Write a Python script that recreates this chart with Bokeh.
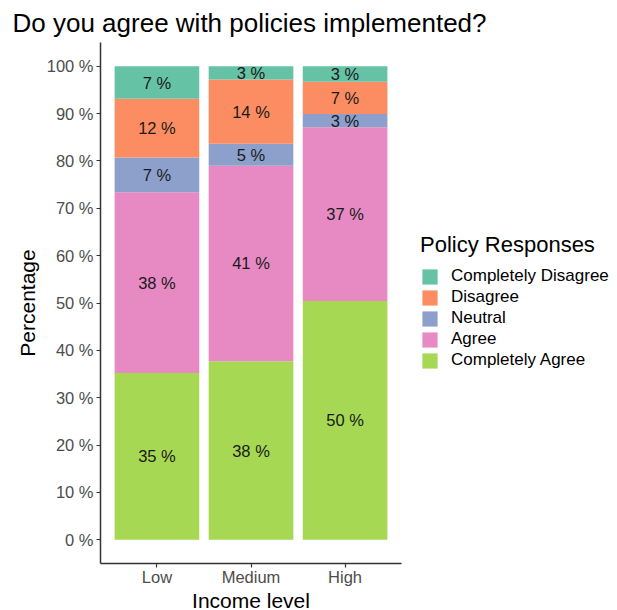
from bokeh.plotting import figure
from bokeh.models import (ColumnDataSource, Range1d, FixedTicker,
                          PrintfTickFormatter, Legend, LegendItem)
from bokeh.core.properties import value
from bokeh.embed import file_html
from bokeh.resources import INLINE

income = ["Low", "Medium", "High"]
completely_agree = [35.2, 37.7, 50.4]
agree = [38.2, 41.3, 36.7]
neutral = [7.3, 4.6, 2.8]
disagree = [12.4, 13.6, 6.8]
completely_disagree = [6.9, 2.8, 3.3]

responses = ["Completely Agree", "Agree", "Neutral", "Disagree", "Completely Disagree"]
keys = ["ca", "a", "n", "d", "cd"]
colors = ["#a6d854", "#e78ac3", "#8da0cb", "#fc8d62", "#66c2a5"]
y_ticks = [0, 10, 20, 30, 40, 50, 60, 70, 80, 90, 100]

FONT = "Liberation Sans"

xpos = [i + 1 for i in range(len(income))]
data = dict(x=xpos, ca=completely_agree, a=agree, n=neutral,
            d=disagree, cd=completely_disagree)
src = ColumnDataSource(data)

p = figure(frame_width=301, frame_height=521, output_backend="svg", toolbar_location=None,
           x_range=Range1d(0.4, len(income) + 0.6),
           y_range=Range1d(-5, 105),
           min_border_left=100, min_border_right=0, min_border_top=41, min_border_bottom=46)

renderers = p.vbar_stack(keys, x="x", width=0.9, color=colors, line_color=None, source=src)

# labels at segment centers
lx, ly, lt = [], [], []
series = [completely_agree, agree, neutral, disagree, completely_disagree]
for i in range(len(income)):
    base = 0.0
    for s in series:
        v = s[i]
        lx.append(xpos[i])
        ly.append(base + v / 2)
        lt.append(f"{round(v)} %")
        base += v
p.text(x=lx, y=ly, text=lt, text_align="center", text_baseline="middle",
       text_font_size="16.5px", text_color="#1a1a1a", text_font=value(FONT))

# title
p.title.text = "Do you agree with policies implemented?"
p.title.text_font = FONT
p.title.text_font_size = "26px"
p.title.text_font_style = "normal"
p.title.text_color = "#000000"
p.title.align = "left"
p.title.offset = -88
p.title.standoff = 10

p.outline_line_color = None
p.xgrid.grid_line_color = None
p.ygrid.grid_line_color = None
p.background_fill_color = "white"

for ax in (p.xaxis[0], p.yaxis[0]):
    ax.axis_line_color = "#333333"
    ax.axis_line_width = 1.5
    ax.major_tick_line_color = "#333333"
    ax.major_tick_line_width = 1.2
    ax.major_tick_out = 4
    ax.major_tick_in = 0
    ax.minor_tick_line_color = None
    ax.major_label_text_font = FONT
    ax.major_label_text_font_size = "16.5px"
    ax.major_label_text_color = "#4d4d4d"
    ax.axis_label_text_font = FONT
    ax.axis_label_text_font_size = "21px"
    ax.axis_label_text_font_style = "normal"
    ax.axis_label_text_color = "#000000"

p.xaxis.axis_label = "Income level"
p.xaxis.ticker = FixedTicker(ticks=xpos)
p.xaxis.major_label_overrides = {x: lab for x, lab in zip(xpos, income)}
p.xaxis.major_label_standoff = 0
p.xaxis.axis_label_standoff = 0
p.yaxis.axis_label = "Percentage"
p.yaxis.ticker = FixedTicker(ticks=y_ticks)
p.yaxis.formatter = PrintfTickFormatter(format="%d %%")
p.yaxis.major_label_standoff = 3
p.yaxis.axis_label_standoff = 5

items = [LegendItem(label=responses[k], renderers=[renderers[k]]) for k in range(4, -1, -1)]
legend = Legend(items=items, location=(19, 193), title="Policy Responses",
                title_text_font=FONT, title_text_font_size="22px", title_text_font_style="normal",
                title_text_color="#000000", title_standoff=8,
                label_text_font=FONT, label_text_font_size="17px", label_text_color="#000000",
                glyph_width=19, glyph_height=19, spacing=1, label_standoff=12,
                padding=10, margin=0, border_line_color=None, background_fill_alpha=0)
p.add_layout(legend, "right")

open("out.html", "w").write(file_html(p, INLINE))
